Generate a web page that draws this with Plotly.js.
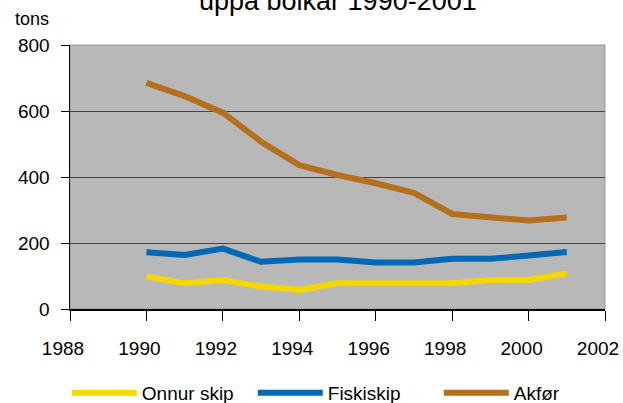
<!DOCTYPE html>
<html><head><meta charset="utf-8">
<script src="https://cdn.plot.ly/plotly-3.0.1.min.js"></script>
<style>html,body{margin:0;padding:0;background:#fff}#c{width:623px;height:403px}</style>
</head><body><div id="c"></div>
<script>
const years = [1990,1991,1992,1993,1994,1995,1996,1997,1998,1999,2000,2001];
const onnurSkip = [98,78,88,68,58,78,78,78,78,88,88,108];
const fiskiskip = [172,164,183,143,150,150,141,141,152,152,162,173];
const akfor = [685,645,595,507,436,406,381,352,288,277,268,277];
const seriesNames = ['Onnur skip','Fiskiskip','Akfør'];
const titleText = 'uppá bólkar 1990-2001';
const yUnit = 'tons';

const colors = ['#f5d800','#0068b5','#b5701e'];
const F = 'Liberation Sans, Arial, sans-serif';
const data = [onnurSkip, fiskiskip, akfor].map((v,i)=>({
  x: years, y: v, type:'scatter', mode:'lines', name: seriesNames[i],
  line:{color:colors[i], width:6}
}));
const layout = {
  width:623, height:403,
  margin:{l:70, r:18, t:45, b:94, autoexpand:false},
  paper_bgcolor:'#ffffff', plot_bgcolor:'#b8b8b8',
  font:{family:F, size:19, color:'#000'},
  showlegend:true,
  legend:{orientation:'h', x:-0.006, xanchor:'left', y:-0.318, yanchor:'middle',
    itemwidth:65, entrywidth:106, font:{family:F, size:19, color:'#000'}, bgcolor:'rgba(0,0,0,0)'},
  xaxis:{range:[1988,2002.0001], dtick:2, tick0:1988, showgrid:false, zeroline:false,
    showline:true, linecolor:'#000', linewidth:1.5, ticks:'outside', ticklen:10,
    tickcolor:'#000', ticklabelstandoff:12, ticklabelshift:-7, tickfont:{family:F,size:19}},
  yaxis:{range:[0,800], dtick:200, showgrid:true, gridcolor:'#444', gridwidth:1,
    zeroline:false, showline:true, linecolor:'#000', linewidth:1.5, ticks:'outside',
    ticklen:8, tickcolor:'#000', ticklabelstandoff:7, tickfont:{family:F,size:19}},
  shapes:[{type:'rect', xref:'paper', yref:'paper', x0:0, x1:1, y0:0, y1:1,
    line:{color:'#9a9a9a', width:1}, layer:'below'}],
  annotations:[
    {text:titleText, xref:'paper', yref:'paper', x:0.5, y:1.167, xanchor:'center', yanchor:'middle',
     showarrow:false, font:{family:F, size:27, color:'#000'}},
    {text:yUnit, xref:'paper', yref:'paper', x:-0.071, y:1.098, xanchor:'center', yanchor:'middle',
     showarrow:false, font:{family:F, size:18, color:'#000'}}
  ]
};
Plotly.newPlot('c', data, layout, {staticPlot:true});
</script></body></html>
